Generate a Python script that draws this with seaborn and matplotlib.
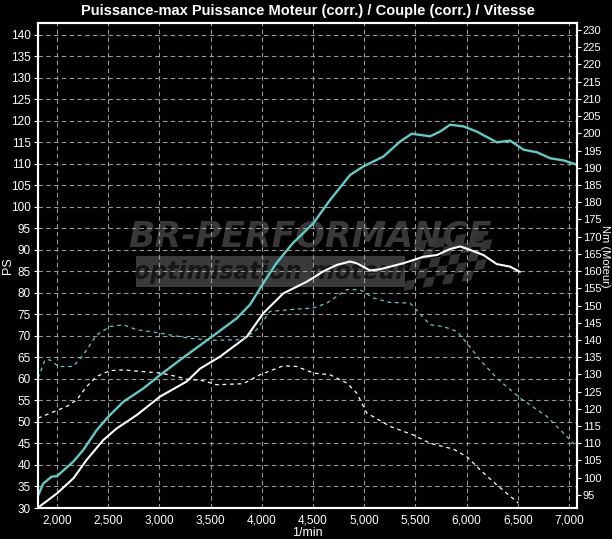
import seaborn as sns
import matplotlib.pyplot as plt
import matplotlib.ticker as mticker
from matplotlib.patches import Rectangle, Polygon

# puissance moteur corrigée (PS) - préparation
rpm_ps_mod = [1810, 1866, 1948, 2000, 2160, 2257, 2387, 2500, 2648, 2843, 3006, 3200, 3511,
              3755, 3885, 4015, 4145, 4300, 4503, 4666, 4861, 4991, 5187, 5350, 5464, 5643,
              5740, 5838, 5968, 6099, 6294, 6424, 6554, 6685, 6815, 6945, 7075]
ps_mod = [32.6, 35.7, 37.3, 37.4, 40.8, 43.5, 48.1, 51.2, 54.7, 57.8, 60.9, 64.4, 69.8,
          74.1, 77.3, 82.3, 87.0, 91.5, 96.2, 101.6, 107.4, 109.4, 111.7, 115.2, 117.0, 116.4,
          117.5, 119.1, 118.7, 117.5, 115.0, 115.4, 113.3, 112.7, 111.3, 110.8, 109.8]

# puissance moteur corrigée (PS) - origine
rpm_ps_ori = [1810, 2000, 2160, 2290, 2452, 2583, 2778, 3006, 3266, 3397, 3592, 3852, 4015,
              4210, 4438, 4600, 4731, 4861, 4926, 5057, 5154, 5382, 5577, 5708, 5838, 5936,
              6033, 6163, 6294, 6424, 6520]
ps_ori = [30.0, 33.4, 36.9, 41.2, 45.8, 48.5, 51.6, 55.9, 59.4, 62.4, 65.2, 69.8, 75.3,
          79.9, 82.6, 85.0, 86.5, 87.3, 86.9, 85.2, 85.5, 86.9, 88.4, 88.8, 90.2, 90.8,
          90.0, 88.8, 86.7, 86.1, 84.9]

# couple corrigé (Nm) - préparation
rpm_nm_mod = [1815, 1883, 1932, 2013, 2159, 2257, 2387, 2517, 2648, 2778, 3006, 3266, 3511,
              3819, 3950, 4080, 4275, 4503, 4634, 4829, 4959, 5089, 5252, 5447, 5643, 5773,
              5903, 6001, 6131, 6294, 6522, 6782, 7042, 7075]
nm_mod = [128.9, 134.2, 134.2, 132.3, 132.3, 135.7, 141.5, 143.9, 144.4, 143.0, 142.0, 140.6, 139.9,
          140.1, 143.0, 148.3, 148.8, 149.3, 150.7, 154.6, 154.6, 152.2, 150.9, 150.7, 144.4, 143.9,
          142.5, 139.1, 134.2, 128.9, 123.1, 117.8, 110.0, 109.0]

# couple corrigé (Nm) - origine
rpm_nm_ori = [1815, 1932, 2095, 2192, 2290, 2387, 2517, 2648, 2843, 3006, 3169, 3299, 3397,
              3560, 3819, 3982, 4210, 4340, 4503, 4666, 4829, 4926, 5024, 5252, 5480, 5643,
              5870, 6001, 6131, 6294, 6505]
nm_ori = [117.3, 118.7, 120.7, 122.6, 126.5, 129.4, 131.1, 131.3, 130.8, 130.4, 129.4, 128.4, 128.4,
          127.0, 127.3, 129.9, 132.5, 132.3, 130.4, 129.9, 127.5, 124.6, 118.8, 114.9, 112.4, 110.0,
          108.3, 106.1, 102.3, 97.9, 92.6]

x_ticks = list(range(2000, 7001, 500))
ps_ticks = list(range(30, 141, 5))
nm_ticks = list(range(95, 231, 5))

CYAN = '#5ccdc6'

sns.set_style('dark')
plt.rcParams['font.family'] = ['Liberation Sans Narrow', 'Liberation Sans', 'DejaVu Sans']
plt.rcParams['text.color'] = 'white'
plt.rcParams['axes.labelcolor'] = 'white'
plt.rcParams['xtick.color'] = 'white'
plt.rcParams['ytick.color'] = 'white'

fig = plt.figure(figsize=(6.12, 5.39), dpi=100, facecolor='black')
ax = fig.add_axes([0.062, 0.0575, 0.881, 0.8995])
ax.set_facecolor('black')
ax2 = ax.twinx()

ax.set_xlim(1814, 7078)
ax.set_ylim(30, 142.7)
ax2.set_ylim(91.2, 232)

# filigrane
ax.add_patch(Rectangle((2772, 81.4), 2627, 7.2, color='#3a3a3a', zorder=0.6, lw=0))
ax.text(4470, 93.0, 'BR-PERFORMANCE', fontsize=25, fontweight='bold', style='oblique',
        color='#383838', ha='center', va='center', family='DejaVu Sans', zorder=0.6)
ax.text(4080, 84.9, 'optimisation moteur', fontsize=17, fontweight='bold', style='oblique',
        color='#161616', ha='center', va='center', family='DejaVu Sans', zorder=0.7)
sq_w, sq_h = 95, 2.3
for i in range(8):
    for j in range(5):
        if (i + j) % 2 == 0:
            x0 = 5380 + i * sq_w + j * 28
            y0 = 80.5 + j * sq_h + i * 0.35
            ax.add_patch(Polygon([(x0, y0), (x0 + sq_w, y0 + 0.35),
                                  (x0 + sq_w + 28, y0 + sq_h + 0.35), (x0 + 28, y0 + sq_h)],
                                 closed=True, color='#333333', lw=0, zorder=0.6))

ax.grid(True, color='#9a9a9a', linestyle=(0, (4, 3)), linewidth=0.8, zorder=0.8)
ax.set_axisbelow(False)

sns.lineplot(x=rpm_ps_mod, y=ps_mod, ax=ax, color=CYAN, lw=1.7, sort=False, estimator=None, zorder=3)
sns.lineplot(x=rpm_ps_ori, y=ps_ori, ax=ax, color='white', lw=1.5, sort=False, estimator=None, zorder=3)
sns.lineplot(x=rpm_nm_mod, y=nm_mod, ax=ax2, color=CYAN, lw=0.9, linestyle=(0, (3, 3)),
             sort=False, estimator=None)
sns.lineplot(x=rpm_nm_ori, y=nm_ori, ax=ax2, color='white', lw=0.9, linestyle=(0, (3, 3)),
             sort=False, estimator=None)

ax.set_xticks(x_ticks)
ax.set_yticks(ps_ticks)
ax2.set_yticks(nm_ticks)
ax.xaxis.set_major_formatter(mticker.FuncFormatter(lambda v, p: f'{int(v):,}'))
ax.tick_params(axis='both', labelsize=8.5, length=3, width=0.8, pad=2, colors='white')
ax2.tick_params(axis='y', labelsize=8, length=3, width=0.8, pad=1, colors='white')

for a in (ax, ax2):
    for s in a.spines.values():
        s.set_color('white')
        s.set_linewidth(1.5)
        s.set_visible(True)

ax.set_xlabel('1/min', fontsize=9, labelpad=0)
ax.set_ylabel('PS', fontsize=9, va='center')
ax.yaxis.set_label_coords(-0.0557, 0.5)
ax2.set_ylabel('Nm (Moteur)', fontsize=8, rotation=-90, va='center')
ax2.yaxis.set_label_coords(1.0525, 0.52)
ax.set_title('Puissance-max Puissance Moteur (corr.) / Couple (corr.) / Vitesse',
             fontsize=10.5, fontweight='bold', color='white', pad=6)

fig.savefig('out.png', dpi=100, facecolor='black')
